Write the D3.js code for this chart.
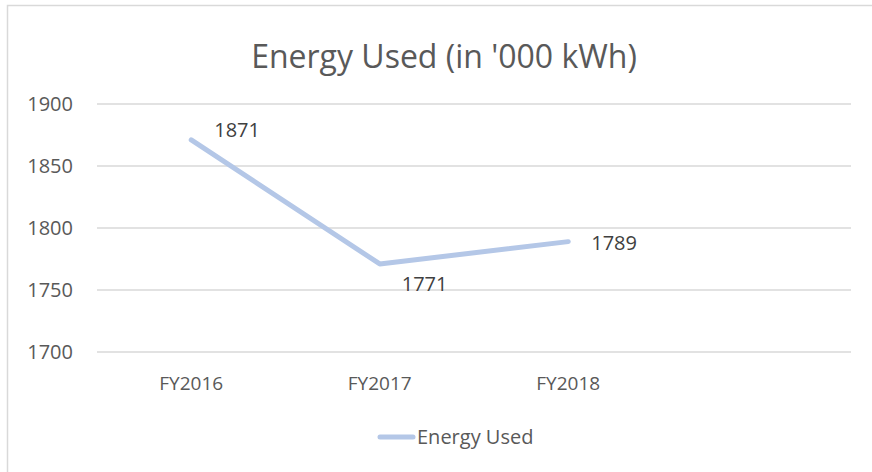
<!DOCTYPE html>
<html>
<head>
  <meta charset="UTF-8">
  <style>
    body { margin: 0; background: #fff; }
    text { font-family: "Open Sans", sans-serif; fill: #595959; }
    .grid line { stroke: #d9d9d9; stroke-width: 1.5; }
  </style>
</head>
<body>
<svg></svg>
<script src="https://d3js.org/d3.v7.min.js"></script>
<script>
let width = 872, height = 472;

// data
var categories = ["FY2016", "FY2017", "FY2018", ""];
var energyUsed = [1871, 1771, 1789];
var yTicks = [1700, 1750, 1800, 1850, 1900];
var seriesName = "Energy Used";

// label offsets, like the hand-placed labels in the original
var labelOffsets = [[23, -10], [22, 20], [23, 1]];

let svg = d3.select("svg")
    .attr("width", width)
    .attr("height", height);

// chart frame
svg.append("rect")
    .attr("x", 7.5).attr("y", 5.5)
    .attr("width", width + 10).attr("height", height + 10)
    .attr("fill", "#fff")
    .attr("stroke", "#d9d9d9")
    .attr("stroke-width", 1.5);

var x = d3.scaleBand()
    .domain(categories)
    .range([97, 851]);

var y = d3.scaleLinear()
    .domain([1700, 1900])
    .range([352, 104]);

// gridlines
svg.append("g")
    .attr("class", "grid")
    .selectAll("line")
    .data(yTicks)
    .enter()
    .append("line")
    .attr("x1", 97).attr("x2", 851)
    .attr("y1", d => y(d)).attr("y2", d => y(d));

// y axis labels
svg.append("g")
    .selectAll("text")
    .data(yTicks)
    .enter()
    .append("text")
    .attr("x", 73)
    .attr("y", d => y(d))
    .attr("dy", "0.35em")
    .attr("text-anchor", "end")
    .style("font-size", "20px")
    .text(d => d);

// x axis labels
svg.append("g")
    .selectAll("text")
    .data(categories.filter(c => c))
    .enter()
    .append("text")
    .attr("x", d => x(d) + x.bandwidth() / 2)
    .attr("y", 383)
    .attr("dy", "0.35em")
    .attr("text-anchor", "middle")
    .style("font-size", "19px")
    .text(d => d);

// line
var line = d3.line()
    .x((d, i) => x(categories[i]) + x.bandwidth() / 2)
    .y(d => y(d));

svg.append("path")
    .datum(energyUsed)
    .attr("d", line)
    .attr("fill", "none")
    .attr("stroke", "#b4c7e7")
    .attr("stroke-width", 5)
    .attr("stroke-linecap", "round")
    .attr("stroke-linejoin", "round");

// data labels
svg.append("g")
    .selectAll("text")
    .data(energyUsed)
    .enter()
    .append("text")
    .attr("x", (d, i) => x(categories[i]) + x.bandwidth() / 2 + labelOffsets[i][0])
    .attr("y", (d, i) => y(d) + labelOffsets[i][1])
    .attr("dy", "0.35em")
    .style("font-size", "20px")
    .style("fill", "#404040")
    .text(d => d);

// title
svg.append("text")
    .attr("x", 444)
    .attr("y", 68)
    .attr("text-anchor", "middle")
    .style("font-size", "32px")
    .text("Energy Used (in '000 kWh)");

// legend
var legend = svg.append("g").attr("transform", "translate(380,437)");
legend.append("line")
    .attr("x1", 0).attr("x2", 33)
    .attr("stroke", "#b4c7e7")
    .attr("stroke-width", 5)
    .attr("stroke-linecap", "round");
legend.append("text")
    .attr("x", 37)
    .attr("dy", "0.35em")
    .style("font-size", "20px")
    .text(seriesName);
</script>
</body>
</html>
